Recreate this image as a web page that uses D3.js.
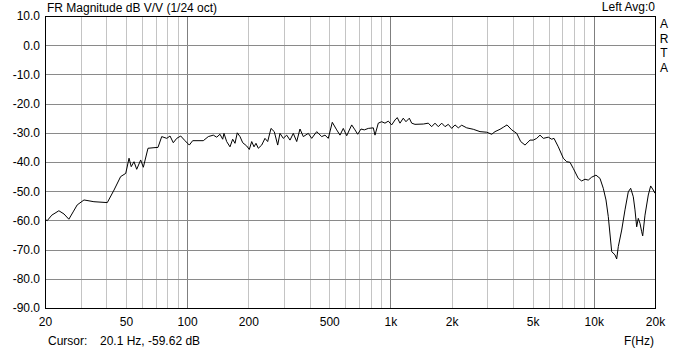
<!DOCTYPE html>
<html>
<head>
<meta charset="utf-8">
<script src="https://cdn.jsdelivr.net/npm/d3@7"></script>
<style>
  body { margin: 0; background: #fff; }
  svg text { font-family: "Liberation Sans", Arial, sans-serif; font-size: 12px; fill: #000; }
</style>
</head>
<body>
<div id="chart"></div>
<script>
// frequency points (Hz)
var freqs = [20.0, 20.5, 21.6, 23.4, 24.8, 26.2, 27.5, 28.8, 31.1, 34.8,
  40.5, 43.7, 47.1, 49.9, 51.8, 53.1, 54.8, 56.5, 59.1, 60.9,
  64.2, 68.7, 71.9, 75.0, 79.4, 82.4, 85.5, 88.9, 93.0, 97.6,
  102.5, 106.5, 120.1, 127.1, 134.5, 139.8, 145.1, 149.6, 151.8, 156.5,
  162.5, 167.5, 172.0, 176.5, 182.0, 187.7, 196.3, 202.2, 207.8, 213.3,
  218.1, 223.9, 232.7, 241.5, 249.0, 258.5, 268.3, 278.9, 286.2, 297.1,
  308.8, 320.6, 332.8, 345.9, 359.0, 372.7, 394.4, 409.9, 433.8, 459.0,
  476.5, 494.6, 517.5, 544.0, 564.7, 586.2, 609.2, 644.7, 669.2, 690.0,
  716.3, 743.6, 778.0, 823.4, 839.4, 871.3, 905.5, 939.9, 975.7, 1014,
  1053, 1080, 1114, 1156, 1192, 1238, 1272, 1320, 1451, 1535,
  1595, 1656, 1719, 1787, 1855, 1925, 2001, 2077, 2156, 2241,
  2371, 2555, 2757, 2974, 3148, 3267, 3458, 3589, 3743, 3948,
  4178, 4371, 4590, 4857, 5042, 5239, 5439, 5646, 5975, 6209,
  6373, 6691, 7080, 7357, 7637, 7928, 8389, 8719, 9050, 9395,
  9764, 10250, 10726, 11134, 11482, 11784, 12248, 12714, 12960, 13198,
  13716, 14238, 14780, 15186, 15640, 15944, 16254, 16552, 16874, 17202,
  17398, 17856, 18536, 19046, 19614, 20000];

// magnitude (dB V/V)
var magDb = [-59.6, -60.1, -58.2, -56.7, -57.8, -59.6, -57.1, -54.7, -53.0, -53.6,
  -53.9, -49.6, -45.0, -43.9, -38.7, -41.6, -39.9, -42.5, -39.3, -41.8,
  -35.3, -35.1, -35.0, -31.3, -31.9, -31.1, -33.4, -31.9, -31.1, -32.7,
  -34.2, -32.7, -32.7, -31.3, -30.8, -31.5, -30.5, -32.2, -30.2, -33.0,
  -34.8, -32.2, -33.6, -30.0, -31.3, -33.4, -34.5, -35.7, -33.0, -34.8,
  -33.6, -35.3, -34.2, -31.9, -33.0, -28.5, -29.6, -34.2, -30.2, -31.9,
  -30.8, -32.5, -30.2, -33.0, -28.7, -31.3, -30.2, -31.9, -29.6, -31.3,
  -30.8, -31.9, -26.4, -29.0, -30.8, -28.5, -31.0, -27.3, -29.0, -30.5,
  -28.7, -29.0, -28.5, -28.3, -30.8, -26.7, -26.2, -26.7, -26.0, -27.3,
  -25.6, -24.8, -26.7, -25.0, -26.2, -25.0, -26.7, -27.1, -27.0, -26.7,
  -27.9, -26.7, -27.9, -26.7, -27.9, -27.1, -28.5, -27.3, -28.3, -27.4,
  -28.3, -28.8, -29.6, -29.8, -30.5, -29.6, -28.8, -28.1, -27.3, -29.0,
  -30.2, -33.0, -34.2, -32.5, -32.5, -31.9, -30.8, -31.9, -31.5, -32.2,
  -31.9, -34.8, -38.7, -39.9, -40.1, -42.2, -45.6, -46.5, -45.9, -46.2,
  -45.2, -44.5, -45.6, -49.0, -53.0, -58.7, -70.7, -71.8, -73.2, -69.0,
  -63.3, -56.4, -50.2, -49.0, -51.9, -56.4, -62.2, -59.3, -61.0, -63.9,
  -65.3, -58.2, -51.3, -48.2, -49.6, -50.7];

var freqLabels = [20, 50, 100, 200, 500, 1000, 2000, 5000, 10000, 20000];
var dbTicks = [10, 0, -10, -20, -30, -40, -50, -60, -70, -80, -90];
var decades = [100, 1000, 10000];

var width = 680, height = 351;
var plotL = 45, plotR = 655, plotT = 16, plotB = 308;

var svg = d3.select("#chart").append("svg")
    .attr("width", width)
    .attr("height", height);

var x = d3.scaleLog().domain([20, 20000]).range([plotL, plotR]);
var y = d3.scaleLinear().domain([-90, 10]).range([plotB, plotT]);

var grid = svg.append("g").attr("shape-rendering", "crispEdges");

// vertical grid, light for the in-between lines, darker at the decades
grid.selectAll(".vgrid")
    .data(x.ticks().filter(function(f) { return f > 20 && f < 20000; }))
    .enter().append("line")
    .attr("x1", function(d) { return Math.round(x(d)) + 0.5; })
    .attr("x2", function(d) { return Math.round(x(d)) + 0.5; })
    .attr("y1", plotT)
    .attr("y2", plotB)
    .attr("stroke", function(d) { return decades.indexOf(d) >= 0 ? "#7f7f7f" : "#c4c4c4"; })
    .attr("stroke-width", 1);

// horizontal grid
grid.selectAll(".hgrid")
    .data(dbTicks.filter(function(d) { return d > -90 && d < 10; }))
    .enter().append("line")
    .attr("x1", plotL)
    .attr("x2", plotR)
    .attr("y1", function(d) { return Math.round(y(d)) + 0.5; })
    .attr("y2", function(d) { return Math.round(y(d)) + 0.5; })
    .attr("stroke", "#8a8a8a")
    .attr("stroke-width", 1);

// the response curve
var pts = freqs.map(function(f, i) { return { f: f, db: magDb[i] }; });
var line = d3.line()
    .x(function(d) { return x(d.f); })
    .y(function(d) { return y(d.db); });

svg.append("path")
    .datum(pts)
    .attr("d", line)
    .attr("fill", "none")
    .attr("stroke", "#000")
    .attr("stroke-width", 1)
    .attr("stroke-linejoin", "round");

// frame
svg.append("rect")
    .attr("x", plotL + 0.5)
    .attr("y", plotT + 0.5)
    .attr("width", plotR - plotL)
    .attr("height", plotB - plotT)
    .attr("fill", "none")
    .attr("stroke", "#000")
    .attr("stroke-width", 1.3)
    .attr("shape-rendering", "crispEdges");

// y labels
var yAxis = d3.axisLeft(y)
    .tickValues(dbTicks)
    .tickSize(0)
    .tickPadding(5)
    .tickFormat(function(d) { return d.toFixed(1); });
var gy = svg.append("g").attr("transform", "translate(" + plotL + ",0)").call(yAxis);
gy.select(".domain").remove();
gy.selectAll("text").style("font-size", "12px").attr("font-family", null);

// x labels
var xAxis = d3.axisBottom(x)
    .tickValues(freqLabels)
    .tickSize(0)
    .tickPadding(9)
    .tickFormat(function(d) { return d >= 1000 ? (d / 1000) + "k" : d; });
var gx = svg.append("g").attr("transform", "translate(0," + plotB + ")").call(xAxis);
gx.select(".domain").remove();
gx.selectAll("text").style("font-size", "12px").attr("font-family", null);

// titles and captions
svg.append("text").attr("x", 47).attr("y", 12).text("FR Magnitude dB V/V (1/24 oct)");
svg.append("text").attr("x", 655).attr("y", 11).attr("text-anchor", "end").text("Left  Avg:0");
["A", "R", "T", "A"].forEach(function(c, i) {
    svg.append("text")
        .attr("x", 664)
        .attr("y", 28 + i * 14.7)
        .attr("text-anchor", "middle")
        .text(c);
});
svg.append("text").attr("x", 48).attr("y", 345).text("Cursor:");
svg.append("text").attr("x", 100).attr("y", 345).text("20.1 Hz, -59.62 dB");
svg.append("text").attr("x", 654).attr("y", 345).attr("text-anchor", "end").text("F(Hz)");
</script>
</body>
</html>
